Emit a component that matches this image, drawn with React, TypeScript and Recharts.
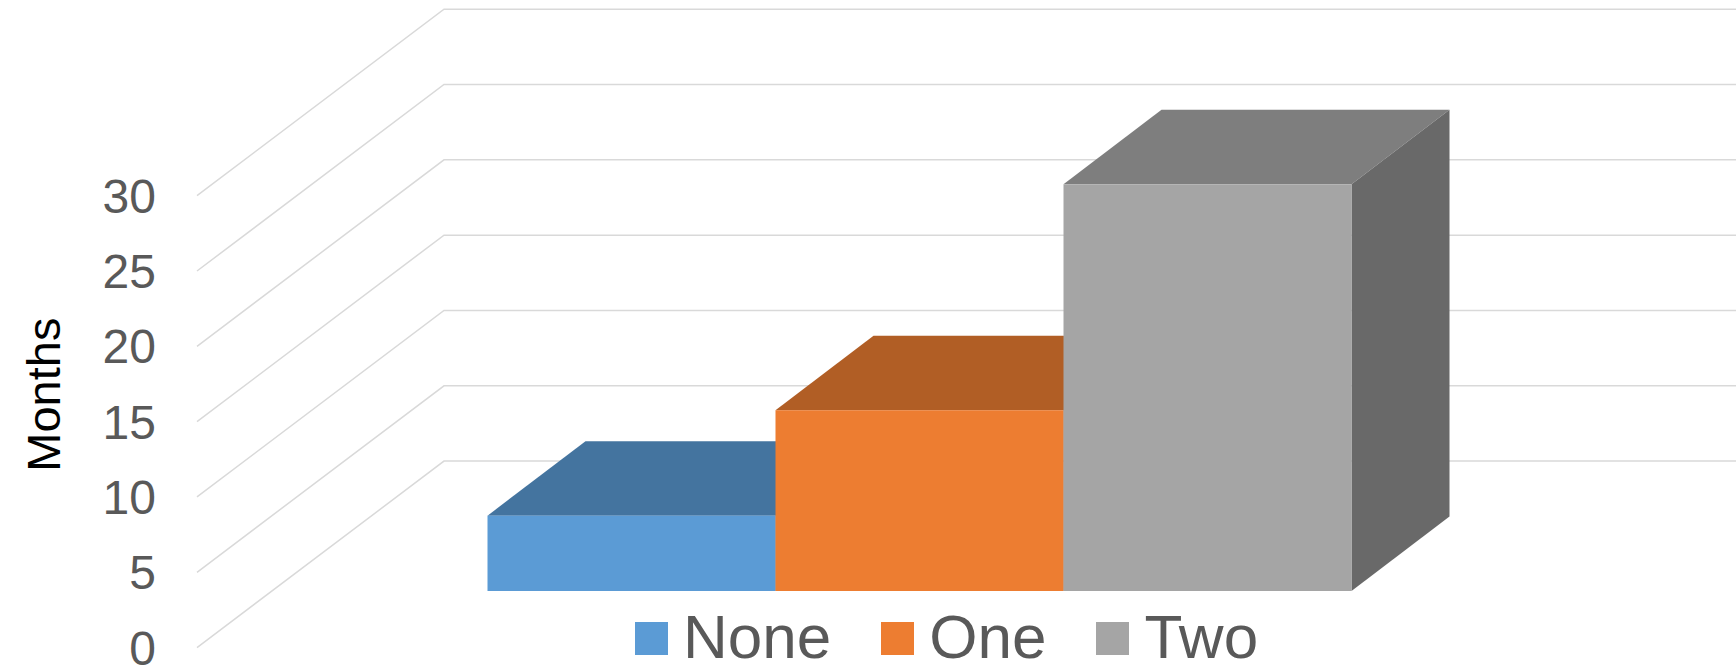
import React from 'react';
import { BarChart, Bar, CartesianGrid, Legend, XAxis, YAxis } from 'recharts';

const seriesNames = ['None', 'One', 'Two'];
const monthValues = [5, 12, 27];
const monthTicks = [0, 5, 10, 15, 20, 25, 30];

const FONT = '"Liberation Sans", Arial, sans-serif';
const FRONT_COLORS = ['#5B9BD5', '#ED7D31', '#A5A5A5'];
const TOP_COLORS = ['#44749F', '#B15E25', '#7E7E7E'];
const SIDE_COLORS = ['#365D7F', '#8E4B1D', '#696969'];

// Fake 3D: the wall sits behind the front plane, the bars stand on the floor in between
const WALL_DX = 247;
const WALL_DY = 186.5;
const FLOOR_LIFT = 56.6;
const BAR_DX = 98;
const BAR_DY = 74.5;

const chartData = [
  Object.fromEntries([['group', 'Months'], ...seriesNames.map((name, i) => [name, monthValues[i]])]),
];

// Each grid line runs up the side wall, then across the back wall
const wallLine = (props: any) => {
  const { x1, x2, y1 } = props;
  const points = `${x1},${y1} ${x1 + WALL_DX},${y1 - WALL_DY} ${x2},${y1 - WALL_DY}`;
  return <polyline key={`wall-${y1}`} points={points} fill="none" stroke="#D9D9D9" strokeWidth={1.5} />;
};

const Cuboid = (props: any) => {
  const { x, y, width, height, fill, topFill, sideFill } = props;
  const top = y - FLOOR_LIFT;
  const right = x + width;
  const bottom = top + height;
  return (
    <g>
      <polygon
        points={`${x},${top} ${x + BAR_DX},${top - BAR_DY} ${right + BAR_DX},${top - BAR_DY} ${right},${top}`}
        fill={topFill}
      />
      <polygon
        points={`${right},${top} ${right + BAR_DX},${top - BAR_DY} ${right + BAR_DX},${bottom - BAR_DY} ${right},${bottom}`}
        fill={sideFill}
      />
      <rect x={x} y={top} width={width} height={height} fill={fill} />
    </g>
  );
};

const LegendRow = ({ payload }: any) => (
  <div style={{ display: 'flex', alignItems: 'center', fontFamily: FONT, fontSize: 62, lineHeight: '62px', color: '#595959' }}>
    {(payload || []).map((entry: any) => (
      <div key={entry.value} style={{ display: 'flex', alignItems: 'center', marginRight: 50 }}>
        <span style={{ display: 'block', width: 33, height: 33, marginRight: 15, marginTop: 2, background: entry.color }} />
        <span>{entry.value}</span>
      </div>
    ))}
  </div>
);

export default function App() {
  return (
    <div style={{ position: 'absolute', left: 0, top: 0 }}>
      <BarChart
        width={1736}
        height={665}
        data={chartData}
        margin={{ top: 195.7, right: 0, bottom: 17.4, left: 0 }}
        barGap={0}
        barCategoryGap={0}
        style={{ fontFamily: FONT }}
      >
        <CartesianGrid vertical={false} horizontal={wallLine} />
        <XAxis dataKey="group" hide padding={{ left: 290.5, right: 386 }} />
        <YAxis
          width={197}
          domain={[0, 30]}
          ticks={monthTicks}
          interval={0}
          axisLine={false}
          tickLine={false}
          tickSize={0}
          tickMargin={41}
          tick={{ fontSize: 48, fill: '#595959' }}
          label={{
            value: 'Months',
            angle: -90,
            position: 'insideLeft',
            textAnchor: 'middle',
            fontSize: 47,
            fill: '#000000',
            dx: 38,
            dy: -27,
          }}
        />
        <Legend
          layout="horizontal"
          verticalAlign="middle"
          align="center"
          content={<LegendRow />}
          wrapperStyle={{ left: 635, top: 606, width: 'auto' }}
        />
        {seriesNames.map((name, i) => (
          <Bar
            key={name}
            dataKey={name}
            fill={FRONT_COLORS[i]}
            isAnimationActive={false}
            shape={(p: any) => <Cuboid {...p} topFill={TOP_COLORS[i]} sideFill={SIDE_COLORS[i]} />}
          />
        ))}
      </BarChart>
    </div>
  );
}
